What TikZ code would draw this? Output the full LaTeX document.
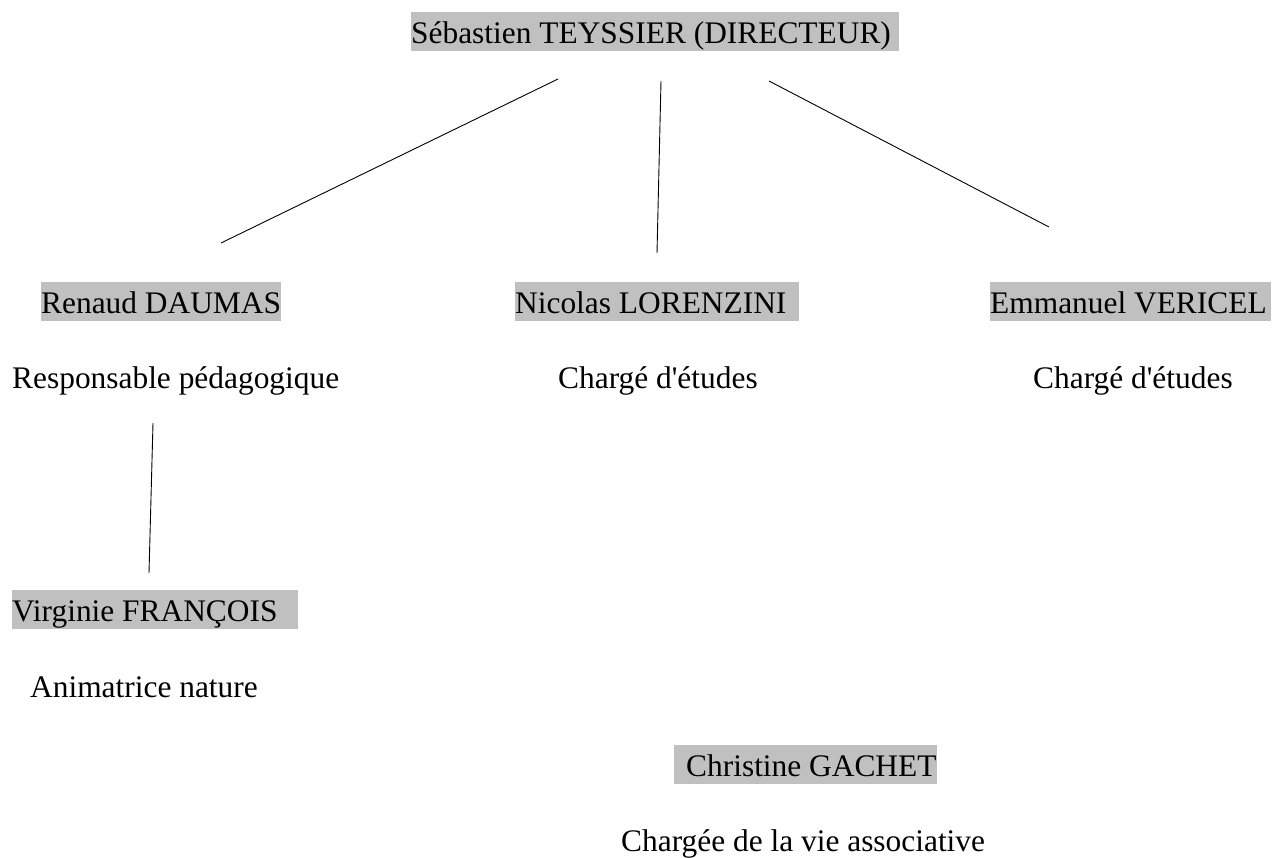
\documentclass[tikz,border=0pt]{standalone}
\usepackage{fontspec}
\setmainfont{Liberation Serif}
\definecolor{hl}{HTML}{C0C0C0}
\begin{document}
\begin{tikzpicture}[x=1pt,y=-1pt,
  every node/.style={inner sep=0pt, anchor=base west, text height=31pt, text depth=8pt, font=\fontsize{31.4}{38}\selectfont},
  person/.style={fill=hl},
  title/.style={},
  link/.style={line width=0.9pt, black}]
\useasboundingbox (0,0) rectangle (1272,857);
% people
\node[person] (dir) at (411,43) {Sébastien TEYSSIER (DIRECTEUR)\kern8pt};
\node[person] (dau) at (41,313) {Renaud DAUMAS};
\node[person] (lor) at (515,313) {Nicolas LORENZINI\kern13pt};
\node[person] (ver) at (990,313) {Emmanuel VERICEL\kern4pt};
\node[title] (dauR) at (12,388) {Responsable pédagogique};
\node[title] (lorR) at (558,388) {Chargé d\textquotesingle études};
\node[title] (verR) at (1033,388) {Chargé d\textquotesingle études};
\node[person] (fra) at (12,621) {Virginie FRANÇOIS\kern20pt};
\node[title] (fraR) at (30,697) {Animatrice nature};
\node[person] (gac) at (674,776) {\kern12pt Christine GACHET};
\node[title] (gacR) at (621,851) {Chargée de la vie associative};
% connector ends
\coordinate (dirL) at (558,79);
\coordinate (dauT) at (221,243);
\coordinate (dirM) at (661,81);
\coordinate (lorT) at (657,253);
\coordinate (dirR) at (769,81);
\coordinate (verT) at (1049,227);
\coordinate (dauB) at (153,423);
\coordinate (fraT) at (149,573);
\draw[link] (dirL) -- (dauT);
\draw[link] (dirM) -- (lorT);
\draw[link] (dirR) -- (verT);
\draw[link] (dauB) -- (fraT);
\end{tikzpicture}
\end{document}
